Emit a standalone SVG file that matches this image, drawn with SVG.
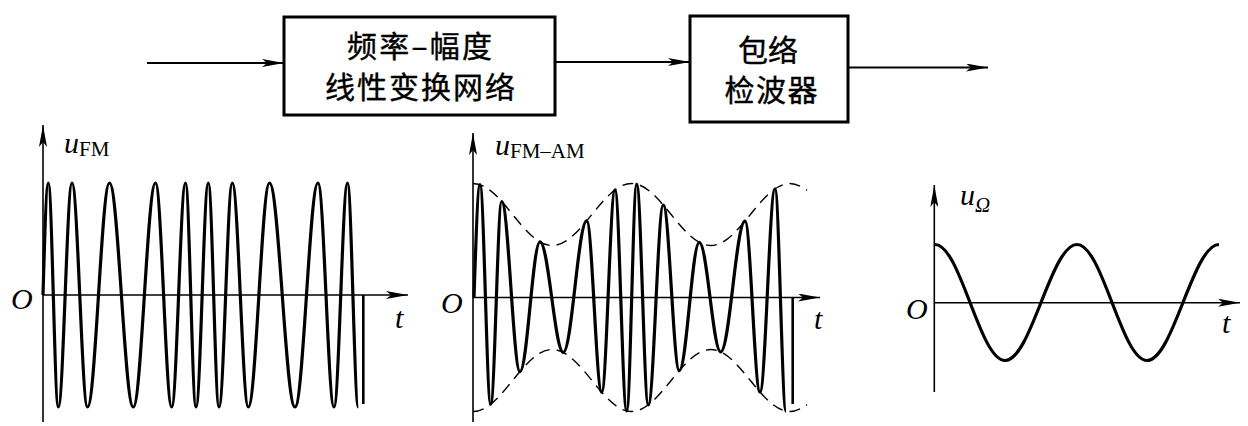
<svg xmlns="http://www.w3.org/2000/svg" width="1248" height="426" viewBox="0 0 1248 426">
<style>
.box{fill:#fff;stroke:#000;stroke-width:3}
.cn{font-family:"Noto Sans CJK SC","Noto Sans",sans-serif;font-size:30px;fill:#000;text-anchor:middle;stroke:#000;stroke-width:0.4}
.ln{fill:none;stroke:#000;stroke-width:1.8}
.ax{fill:none;stroke:#000;stroke-width:1.6}
.wave{fill:none;stroke:#000;stroke-width:3.2;stroke-linejoin:round}
.env{fill:none;stroke:#000;stroke-width:1.4;stroke-dasharray:11 7}
.lab{font-family:"Liberation Serif","Times New Roman",serif;fill:#000}
.it{font-style:italic}
</style>
<defs>
<marker id="ah" viewBox="0 0 22 8" refX="22" refY="4" markerWidth="22" markerHeight="8" markerUnits="userSpaceOnUse" orient="auto">
<path d="M0,0 L22,4 L0,8 L5,4 Z" fill="#000"/>
</marker>
</defs>
<rect width="1248" height="426" fill="#fff"/>

<g id="connectors">
<line class="ln" x1="147" y1="63" x2="284" y2="63" marker-end="url(#ah)"/>
<line class="ln" x1="555" y1="62" x2="690" y2="62" marker-end="url(#ah)"/>
<line class="ln" x1="848" y1="67.5" x2="988" y2="67.5" marker-end="url(#ah)"/>
</g>

<g id="node-converter">
<rect class="box" x="284" y="17" width="271" height="98"/>
<text class="cn" x="419.5" y="57" textLength="145" lengthAdjust="spacing">频率–幅度</text>
<text class="cn" x="420" y="98" textLength="190" lengthAdjust="spacing">线性变换网络</text>
</g>

<g id="node-detector">
<rect class="box" x="690" y="16" width="158" height="106"/>
<text class="cn" x="768" y="61" textLength="60" lengthAdjust="spacing">包络</text>
<text class="cn" x="771" y="101" textLength="93" lengthAdjust="spacing">检波器</text>
</g>

<g id="plot-fm">
<line class="ax" x1="43" y1="422" x2="43" y2="125" marker-end="url(#ah)"/>
<line class="ax" x1="43" y1="295" x2="408" y2="295" marker-end="url(#ah)"/>
<path class="wave" d="M43,295 c1.7,-57.3 3.4,-112 5.3,-112
c3.64,0 6.36,224 10,224
c4.99,0 8.71,-224 13.7,-224
c5.64,0 9.86,224 15.5,224
c8.01,0 13.99,-224 22,-224
c8.66,0 15.14,224 23.8,224
c8.08,0 14.12,-224 22.2,-224
c5.9,0 10.3,224 16.2,224
c5.02,0 8.78,-224 13.8,-224
c3.82,0 6.68,224 10.5,224
c4.48,0 7.82,-224 12.3,-224
c3.89,0 6.81,224 10.7,224
c4.84,0 8.46,-224 13.3,-224
c5.82,0 10.18,224 16,224
c7.72,0 13.48,-224 21.2,-224
c9.28,0 16.22,224 25.5,224
c8.37,0 14.63,-224 23,-224
c5.82,0 10.18,224 16,224
c4.91,0 8.59,-224 13.5,-224
c3.93,0 6.87,224 10.8,224"/>
<line x1="363.3" y1="295" x2="363.3" y2="404" stroke="#000" stroke-width="2.6"/>
<text class="lab" x="64" y="153"><tspan class="it" font-size="30">u</tspan><tspan font-size="21" dy="3">FM</tspan></text>
<text class="lab it" x="11" y="309" font-size="30">O</text>
<text class="lab it" x="395" y="328" font-size="30">t</text>
</g>

<g id="plot-fm-am">
<line class="ax" x1="473" y1="422" x2="473" y2="133" marker-end="url(#ah)"/>
<line class="ax" x1="473" y1="297.5" x2="820" y2="297.5" marker-end="url(#ah)"/>
<path class="env" d="M473,183.5 C501.85,183.5 523.4,245.5 552.25,245.5 C581.1,245.5 602.65,183.5 631.5,183.5 C660.35,183.5 681.9,245.5 710.75,245.5 C739.6,245.5 761.15,183.5 790,183.5 C795.7,183.5 801.3,186.5 807,190.3"/>
<path class="env" d="M473,411.5 C501.85,411.5 523.4,349.5 552.25,349.5 C581.1,349.5 602.65,411.5 631.5,411.5 C660.35,411.5 681.9,349.5 710.75,349.5 C739.6,349.5 761.15,411.5 790,411.5 C795.7,411.5 801.3,408.5 807,404.7"/>
<path class="wave" d="M474,297.5 C475.96,239.7 477.83,184.7 480,184.7
C483.89,184.7 486.81,404.2 490.7,404.2
C494.7,404.2 497.7,201.5 501.7,201.5
C508.36,201.5 513.34,371.6 520,371.6
C527.28,371.6 532.72,241.9 540,241.9
C548.48,241.9 554.82,352.4 563.3,352.4
C571.82,352.4 578.18,220.9 586.7,220.9
C592.16,220.9 596.24,392.2 601.7,392.2
C606.54,392.2 610.16,189.9 615,189.9
C619.26,189.9 622.44,410.9 626.7,410.9
C630.34,410.9 633.06,184.2 636.7,184.2
C640.92,184.2 644.08,404.9 648.3,404.9
C653.76,404.9 657.84,205 663.3,205
C669.12,205 673.48,370.6 679.3,370.6
C686.58,370.6 692.02,242.4 699.3,242.4
C707.09,242.4 712.91,351.9 720.7,351.9
C729.55,351.9 736.15,221.1 745,221.1
C750.46,221.1 754.54,392 760,392
C765.46,392 769.54,188.9 775,188.9
C779,188.9 782,411.1 786,411.1"/>
<line x1="792.7" y1="297.5" x2="792.7" y2="404" stroke="#000" stroke-width="2.6"/>
<text class="lab" x="495" y="155"><tspan class="it" font-size="30">u</tspan><tspan font-size="21" dy="3">FM–AM</tspan></text>
<text class="lab it" x="441" y="313" font-size="30">O</text>
<text class="lab it" x="814" y="329" font-size="30">t</text>
</g>

<g id="plot-omega">
<line class="ax" x1="934.3" y1="392" x2="934.3" y2="185" marker-end="url(#ah)"/>
<line class="ax" x1="934.3" y1="302.7" x2="1240" y2="302.7" marker-end="url(#ah)"/>
<path class="wave" d="M935,244.5 C960.5,244.5 979.5,360.5 1005,360.5 C1031.2,360.5 1050.8,244.5 1077,244.5 C1102.5,244.5 1121.5,360.5 1147,360.5 C1173.2,360.5 1192.8,244.5 1219,244.5"/>
<text class="lab" x="960" y="205"><tspan class="it" font-size="30">u</tspan><tspan class="it" font-size="21" dy="7">Ω</tspan></text>
<text class="lab it" x="906" y="319" font-size="30">O</text>
<text class="lab it" x="1222" y="333" font-size="30">t</text>
</g>
</svg>
